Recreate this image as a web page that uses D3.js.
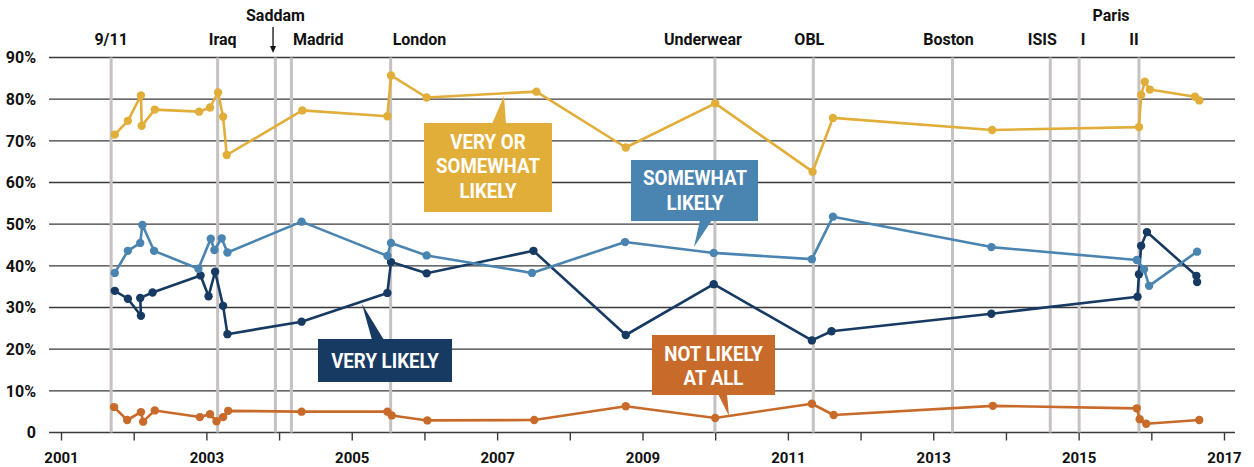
<!DOCTYPE html>
<html>
<head>
<meta charset="utf-8">
<script src="https://cdn.jsdelivr.net/npm/d3@7"></script>
<style>
  body { margin: 0; background: #fff; }
  text { font-family: Roboto, "Noto Sans", sans-serif; font-weight: 700; }
</style>
</head>
<body>
<div id="chart"></div>
<script>
// poll series: [decimal year, percent]
var veryOrSomewhat = [
	[2001.74,71.5],[2001.92,74.8],[2002.10,80.9],[2002.11,73.6],[2002.29,77.5],[2002.90,77.0],
	[2003.05,78.0],[2003.16,81.6],[2003.23,75.8],[2003.28,66.6],[2004.32,77.3],[2005.49,75.9],
	[2005.54,85.7],[2006.03,80.4],[2007.54,81.8],[2008.77,68.4],[2010.00,79.0],[2011.34,62.6],
	[2011.62,75.5],[2013.81,72.6],[2015.83,73.3],[2015.86,81.0],[2015.91,84.2],[2015.98,82.3],
	[2016.60,80.6],[2016.66,79.7]
];
var somewhat = [
	[2001.74,38.3],[2001.92,43.6],[2002.09,45.5],[2002.12,49.8],[2002.28,43.6],[2002.89,39.3],
	[2003.06,46.5],[2003.11,43.8],[2003.21,46.6],[2003.29,43.2],[2004.31,50.6],[2005.49,42.4],
	[2005.54,45.5],[2006.03,42.5],[2007.48,38.3],[2008.76,45.7],[2009.98,43.1],[2011.33,41.6],
	[2011.62,51.8],[2013.80,44.5],[2015.80,41.4],[2015.90,39.2],[2015.97,35.2],[2016.63,43.4]
];
var very = [
	[2001.74,34.0],[2001.92,32.1],[2002.10,28.0],[2002.09,32.3],[2002.26,33.6],[2002.92,37.7],
	[2003.03,32.7],[2003.12,38.6],[2003.23,30.4],[2003.29,23.6],[2004.31,26.6],[2005.49,33.5],
	[2005.54,40.9],[2006.03,38.2],[2007.50,43.6],[2008.77,23.4],[2009.98,35.6],[2011.33,22.1],
	[2011.60,24.3],[2013.80,28.5],[2015.81,32.6],[2015.83,38.0],[2015.86,44.8],[2015.94,48.1],
	[2016.62,37.6],[2016.63,36.1]
];
var notAtAll = [
	[2001.73,6.1],[2001.91,3.0],[2002.10,4.9],[2002.13,2.6],[2002.29,5.3],[2002.91,3.7],
	[2003.05,4.4],[2003.14,2.7],[2003.23,3.7],[2003.30,5.2],[2004.31,5.0],[2005.49,5.0],
	[2005.55,4.1],[2006.04,2.9],[2007.51,3.0],[2008.77,6.3],[2010.00,3.5],[2011.33,6.9],
	[2011.63,4.2],[2013.82,6.4],[2015.80,5.8],[2015.84,3.2],[2015.93,2.1],[2016.66,3.0]
];

var eventNames = ['9/11','Iraq','Saddam','Madrid','London','Underwear','OBL','Boston','ISIS','I','II'];
var eventDates = [2001.69,2003.155,2003.95,2004.17,2005.535,2009.996,2011.35,2013.265,2014.61,2015.007,2015.83];

var yTicks = [0,10,20,30,40,50,60,70,80,90];
var xTicks = d3.range(2001, 2018);

var series = [
	{name:'notAtAll', data:notAtAll, color:'#c86b2a'},
	{name:'very', data:very, color:'#173a63'},
	{name:'somewhat', data:somewhat, color:'#4a84b1'},
	{name:'veryOrSomewhat', data:veryOrSomewhat, color:'#e2ae3a'}
];

var width = 1254, height = 467;

var svg = d3.select('#chart').append('svg')
	.attr('width', width)
	.attr('height', height);

var xScale = d3.scaleLinear().domain([2001,2017]).range([61,1224]),
	yScale = d3.scaleLinear().domain([0,90]).range([432.5,57.5]);

// horizontal grid
svg.append('g').selectAll('line')
	.data(yTicks).enter().append('line')
	.attr('x1', 49).attr('x2', 1235)
	.attr('y1', function(d){return yScale(d);})
	.attr('y2', function(d){return yScale(d);})
	.style('stroke', '#3a3a3a')
	.style('stroke-width', 1.4);

svg.append('g').selectAll('text')
	.data(yTicks).enter().append('text')
	.attr('x', 36)
	.attr('y', function(d){return yScale(d);})
	.attr('dy', '0.36em')
	.attr('text-anchor', 'end')
	.style('font-size', '16px')
	.style('fill', '#111')
	.text(function(d){return d === 0 ? '0' : d + '%';});

// x axis
var xAxis = d3.axisBottom(xScale)
	.tickValues(xTicks)
	.tickSize(8)
	.tickSizeOuter(0)
	.tickFormat(function(d){return d % 2 === 1 ? d : '';});

var axisG = svg.append('g')
	.attr('transform', 'translate(0,' + yScale(0) + ')')
	.call(xAxis);
axisG.select('.domain').remove();
axisG.selectAll('line').style('stroke', '#3a3a3a').style('stroke-width', 1.4);
axisG.selectAll('text')
	.attr('y', 20)
	.style('font-size', '15px')
	.style('font-family', 'Roboto, sans-serif')
	.style('font-weight', 700)
	.style('fill', '#111');

// event lines
svg.append('g').selectAll('line')
	.data(eventDates).enter().append('line')
	.attr('x1', function(d){return xScale(d);})
	.attr('x2', function(d){return xScale(d);})
	.attr('y1', yScale(90))
	.attr('y2', yScale(0))
	.style('stroke', '#c6c2c2')
	.style('stroke-width', 3);

// event labels (offsets from the event line)
var labelLayout = {
	'9/11':[0,44.5,'middle'], 'Iraq':[5,44.5,'middle'], 'Saddam':[0,21,'middle'],
	'Madrid':[1.5,44.5,'start'], 'London':[2,44.5,'start'], 'Underwear':[-12,44.5,'middle'],
	'OBL':[-4,44.5,'middle'], 'Boston':[-4,44.5,'middle'], 'ISIS':[-8,44.5,'middle'],
	'I':[4,44.5,'middle'], 'II':[-5,44.5,'middle']
};
svg.append('g').selectAll('text')
	.data(eventNames).enter().append('text')
	.attr('x', function(d,i){return xScale(eventDates[i]) + labelLayout[d][0];})
	.attr('y', function(d){return labelLayout[d][1];})
	.attr('text-anchor', function(d){return labelLayout[d][2];})
	.style('font-size', '16px')
	.style('fill', '#111')
	.text(function(d){return d;});

// "Paris" over I and II
svg.append('text')
	.attr('x', (xScale(eventDates[9]) + xScale(eventDates[10])) / 2 + 2)
	.attr('y', 21)
	.attr('text-anchor', 'middle')
	.style('font-size', '16px')
	.style('fill', '#111')
	.text('Paris');

// Saddam arrow
var ax = xScale(eventDates[2]) - 2.4;
svg.append('line')
	.attr('x1', ax).attr('x2', ax)
	.attr('y1', 27).attr('y2', 48)
	.style('stroke', '#111').style('stroke-width', 1.3);
svg.append('path')
	.attr('d', 'M' + (ax-3) + ',46 L' + (ax+3) + ',46 L' + ax + ',53 Z')
	.style('fill', '#111');

// series lines and dots
var line = d3.line()
	.x(function(d){return xScale(d[0]);})
	.y(function(d){return yScale(d[1]);});

series.forEach(function(s){
	var g = svg.append('g').attr('class', s.name);
	g.append('path')
		.attr('d', line(s.data))
		.style('fill', 'none')
		.style('stroke', s.color)
		.style('stroke-width', 2.6)
		.style('stroke-linejoin', 'round');
	g.selectAll('circle')
		.data(s.data).enter().append('circle')
		.attr('cx', function(d){return xScale(d[0]);})
		.attr('cy', function(d){return yScale(d[1]);})
		.attr('r', 4.2)
		.style('fill', s.color);
});

// callout boxes
var callouts = [
	{lines:['VERY OR','SOMEWHAT','LIKELY'], color:'#e2ae3a', box:[424,123,552,212], cx:488,
		base:[148.5,173,197.5], ptr:[[492,124],[504,96],[506,124]]},
	{lines:['SOMEWHAT','LIKELY'], color:'#4a84b1', box:[631,160,758,221], cx:695,
		base:[185,210], ptr:[[700,220],[712,220],[694,247]]},
	{lines:['VERY LIKELY'], color:'#173a63', box:[318,339,452,382], cx:385,
		base:[367.5], ptr:[[372,340],[384,340],[362,304]]},
	{lines:['NOT LIKELY','AT ALL'], color:'#c86b2a', box:[652,335,775,395], cx:713.5,
		base:[361,385], ptr:[[718,394],[727,394],[729,416]]}
];

callouts.forEach(function(c){
	var g = svg.append('g');
	g.append('path')
		.attr('d', 'M' + c.ptr.join('L') + 'Z')
		.style('fill', c.color);
	g.append('rect')
		.attr('x', c.box[0]).attr('y', c.box[1])
		.attr('width', c.box[2]-c.box[0]).attr('height', c.box[3]-c.box[1])
		.style('fill', c.color);
	c.lines.forEach(function(t,i){
		var txt = g.append('text')
			.attr('x', c.cx)
			.attr('y', c.base[i])
			.attr('text-anchor', 'middle')
			.style('font-size', '21px')
			.style('fill', '#fff')
			.text(t);
		var w = txt.node().getComputedTextLength();
		txt.attr('textLength', w*0.89).attr('lengthAdjust', 'spacingAndGlyphs');
	});
});
</script>
</body>
</html>
